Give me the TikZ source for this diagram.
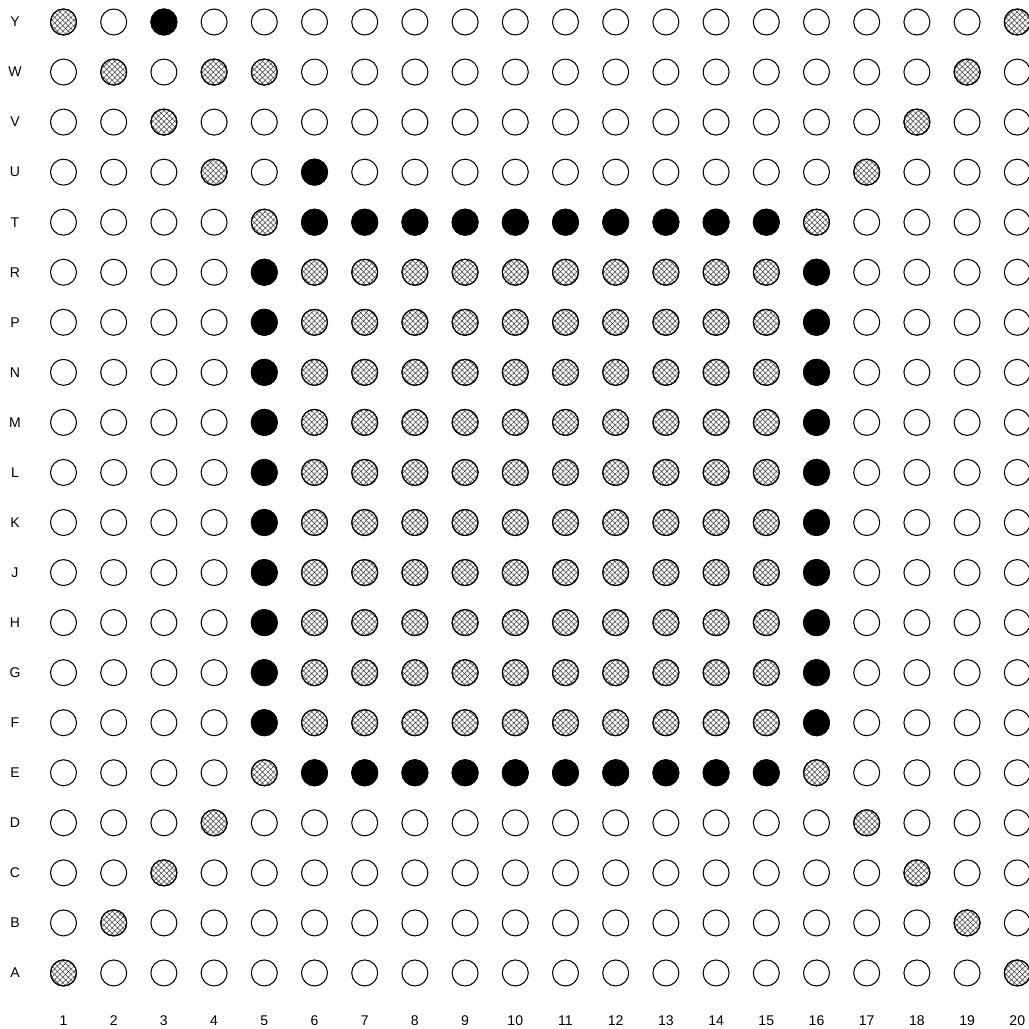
\documentclass[tikz,border=0pt]{standalone}
\usepackage{fontspec}
\setmainfont{Liberation Sans}
\usetikzlibrary{patterns.meta}

\tikzset{
  pin/.style={circle,draw,line width=.6pt,minimum size=.52cm,inner sep=0pt,fill=white},
  hatch/.style={pattern={Hatch[angle=45,distance=2.2pt,line width=.3pt]},pattern color=black!75},
  ball/.style={fill=black},
  lab/.style={font=\fontsize{8}{9}\selectfont,inner sep=0pt}
}

\begin{document}
\begin{tikzpicture}[x=1cm,y=1cm]
  \useasboundingbox (0,0) rectangle (20.58,-20.58);
  % rows, top to bottom
  \foreach \r/\n in {0/Y,1/W,2/V,3/U,4/T,5/R,6/P,7/N,8/M,9/L,10/K,11/J,12/H,13/G,14/F,15/E,16/D,17/C,18/B,19/A} {
    \node[lab] (row-\n) at (0.3,{-0.44-\r*1.001}) {\n};
    \foreach \c in {1,...,20}
      \node[pin] (\n-\c) at ({1.27+(\c-1)*1.004},{-0.44-\r*1.001}) {};
  }
  % column numbers
  \foreach \c in {1,...,20}
    \node[lab] (col-\c) at ({1.27+(\c-1)*1.004},-20.42) {\c};
  % solid pins
  \foreach \p in {Y-3,U-6} \node[pin,ball] at (\p) {};
  \foreach \c in {6,...,15} {
    \node[pin,ball] at (T-\c) {};
    \node[pin,ball] at (E-\c) {};
  }
  \foreach \n in {R,P,N,M,L,K,J,H,G,F} {
    \node[pin,ball] at (\n-5) {};
    \node[pin,ball] at (\n-16) {};
    \foreach \c in {6,...,15} \node[pin,hatch] at (\n-\c) {};
  }
  % hatched pins
  \foreach \p in {Y-1,Y-20,W-2,W-4,W-5,W-19,V-3,V-18,U-4,U-17,T-5,T-16,
                  E-5,E-16,D-4,D-17,C-3,C-18,B-2,B-19,A-1,A-20}
    \node[pin,hatch] at (\p) {};
\end{tikzpicture}
\end{document}
